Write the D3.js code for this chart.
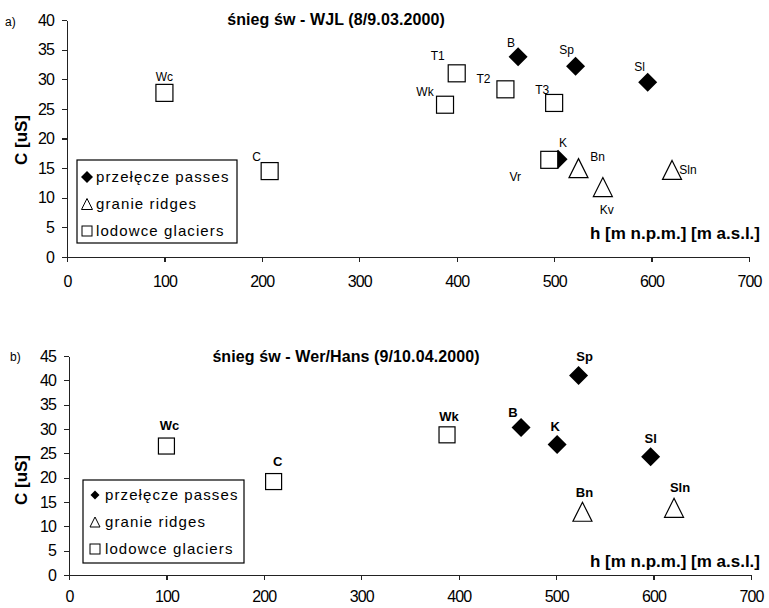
<!DOCTYPE html>
<html>
<head>
<meta charset="utf-8">
<script src="https://cdn.jsdelivr.net/npm/d3@7"></script>
<style>
  html, body { margin: 0; padding: 0; background: #fff; }
  svg { display: block; }
  text { font-family: "Liberation Sans", Arial, sans-serif; fill: #000; }
</style>
</head>
<body>
<svg id="chart" width="769" height="608"></svg>
<script>
// ---------- DATA ----------
const xTicks = [0, 100, 200, 300, 400, 500, 600, 700];
const yTicksA = [0, 5, 10, 15, 20, 25, 30, 35, 40];
const yTicksB = [0, 5, 10, 15, 20, 25, 30, 35, 40, 45];

const legendLabels = ["przełęcze passes", "granie ridges", "lodowce glaciers"];

// panel a) śnieg św - WJL (8/9.03.2000)
const passesA_names = ["B", "Sp", "Sl", "K"];
const passesA_h = [463, 522, 596, 504];
const passesA_c = [33.8, 32.2, 29.5, 16.5];
const ridgesA_names = ["Bn", "Kv", "Sln"];
const ridgesA_h = [525, 550, 621];
const ridgesA_c = [15.0, 11.8, 14.7];
const glaciersA_names = ["Wc", "C", "Wk", "T1", "T2", "T3", "Vr"];
const glaciersA_h = [100, 208, 388, 400, 450, 500, 495];
const glaciersA_c = [27.7, 14.5, 25.7, 31.0, 28.3, 26.0, 16.4];

// panel b) śnieg św - Wer/Hans (9/10.04.2000)
const passesB_names = ["Sp", "B", "K", "Sl"];
const passesB_h = [523, 464, 501, 597];
const passesB_c = [41.0, 30.3, 26.8, 24.3];
const ridgesB_names = ["Bn", "Sln"];
const ridgesB_h = [527, 621];
const ridgesB_c = [13.0, 13.8];
const glaciersB_names = ["Wc", "C", "Wk"];
const glaciersB_h = [100, 210, 388];
const glaciersB_c = [26.5, 19.2, 28.8];

// ---------- LAYOUT (label offsets, not data) ----------
const labelOffA = {
  B: [-7, -14], Sp: [-9, -16], Sl: [-8, -15], K: [5, -16],
  Bn: [19, -11], Kv: [4, 23], Sln: [16, 0],
  Wc: [0, -16], C: [-13, -14], Wk: [-20, -13], T1: [-19, -18],
  T2: [-22, -11], T3: [-12, -13], Vr: [-34, 17]
};
const labelOffB = {
  Sp: [6, -19], B: [-8, -15], K: [-2, -18], Sl: [0, -18],
  Bn: [2, -19], Sln: [6, -20],
  Wc: [3, -21], C: [4, -20], Wk: [2, -18]
};

function zip(names, hs, cs) { return names.map((n, i) => ({ name: n, h: hs[i], c: cs[i] })); }

const svg = d3.select("#chart");

function drawPanel(cfg) {
  const g = svg.append("g");
  const x = d3.scaleLinear().domain([0, 700]).range([cfg.x0, cfg.x1]);
  const y = d3.scaleLinear().domain([0, cfg.yMax]).range([cfg.y0, cfg.y1]);

  // axes
  const xAxis = d3.axisBottom(x).tickValues(xTicks).tickSize(5).tickSizeOuter(0).tickPadding(cfg.xPad);
  const yAxis = d3.axisLeft(y).tickValues(cfg.yTicks).tickSize(5).tickSizeOuter(0).tickPadding(8);
  const gx = g.append("g").attr("transform", `translate(0,${cfg.y0})`).call(xAxis);
  const gy = g.append("g").attr("transform", `translate(${cfg.x0},0)`).call(yAxis);
  [gx, gy].forEach(a => {
    a.selectAll("path, line").attr("stroke", "#222").attr("stroke-width", 1.2).attr("shape-rendering", "crispEdges");
    a.selectAll("text").style("font-size", "16px").style("letter-spacing", "-0.9px").attr("fill", "#000");
  });
  gx.selectAll("text").attr("dy", "0.71em");

  // axis titles
  g.append("text")
    .attr("transform", `translate(${cfg.yTitleX},${cfg.yTitleY}) rotate(-90)`)
    .attr("text-anchor", "middle")
    .style("font-size", "17px").style("font-weight", "bold")
    .text("C [uS]");
  g.append("text")
    .attr("x", cfg.xTitleX).attr("y", cfg.xTitleY)
    .attr("text-anchor", "end")
    .style("font-size", "17px").style("font-weight", "bold")
    .text("h [m n.p.m.] [m a.s.l.]");

  // title
  g.append("text")
    .attr("x", cfg.titleX).attr("y", cfg.titleY)
    .attr("text-anchor", "middle")
    .style("font-size", "16px").style("font-weight", "bold")
    .style("letter-spacing", "0.1px")
    .text(cfg.title);

  // panel letter
  g.append("text").attr("x", cfg.letterX).attr("y", cfg.letterY)
    .style("font-size", "12px").text(cfg.letter);

  // passes (diamonds)
  const pd = zip(...cfg.passes);
  g.append("g").selectAll("path").data(pd).join("path")
    .attr("transform", d => `translate(${x(d.h)},${y(d.c)})`)
    .attr("d", () => {
      const r = cfg.dSize / 2;
      return `M0,${-r}L${r},0L0,${r}L${-r},0Z`;
    })
    .attr("fill", "#000");

  // ridges (triangles)
  const rd = zip(...cfg.ridges);
  g.append("g").selectAll("path").data(rd).join("path")
    .attr("transform", d => `translate(${x(d.h)},${y(d.c)})`)
    .attr("d", () => {
      const w = cfg.tSize / 2, hgt = cfg.tSize;
      return `M0,${-hgt / 2}L${w},${hgt / 2}L${-w},${hgt / 2}Z`;
    })
    .attr("fill", "#fff").attr("stroke", "#000").attr("stroke-width", 1.2);

  // glaciers (squares)
  const gd = zip(...cfg.glaciers);
  g.append("g").selectAll("rect").data(gd).join("rect")
    .attr("x", d => x(d.h) - cfg.sSize / 2)
    .attr("y", d => y(d.c) - cfg.sSize / 2)
    .attr("width", cfg.sSize).attr("height", cfg.sSize)
    .attr("fill", "#fff").attr("stroke", "#000").attr("stroke-width", 1.2);

  // point labels
  const all = pd.concat(rd, gd);
  g.append("g").selectAll("text").data(all).join("text")
    .attr("x", d => x(d.h) + cfg.labelOff[d.name][0])
    .attr("y", d => y(d.c) + cfg.labelOff[d.name][1])
    .attr("dy", "0.35em")
    .attr("text-anchor", "middle")
    .style("font-size", cfg.labelSize)
    .style("font-weight", cfg.labelWeight)
    .text(d => d.name);

  // legend
  const L = cfg.legend;
  const lg = g.append("g");
  lg.append("rect").attr("x", L.x).attr("y", L.y).attr("width", L.w).attr("height", L.h)
    .attr("fill", "#fff").attr("stroke", "#000").attr("stroke-width", 1.2);
  legendLabels.forEach((lab, i) => {
    const cy = L.y + L.rowY[i];
    const cx = L.x + L.symX;
    if (i === 0) {
      const r = L.dSym / 2;
      lg.append("path").attr("d", `M${cx},${cy - r}L${cx + r},${cy}L${cx},${cy + r}L${cx - r},${cy}Z`).attr("fill", "#000");
    } else if (i === 1) {
      const w = L.tSym / 2;
      lg.append("path").attr("d", `M${cx},${cy - w}L${cx + w},${cy + w}L${cx - w},${cy + w}Z`)
        .attr("fill", "#fff").attr("stroke", "#000").attr("stroke-width", 1);
    } else {
      const s = L.sSym;
      lg.append("rect").attr("x", cx - s / 2).attr("y", cy - s / 2).attr("width", s).attr("height", s)
        .attr("fill", "#fff").attr("stroke", "#000").attr("stroke-width", 1);
    }
    lg.append("text").attr("x", L.x + L.textX).attr("y", cy).attr("dy", "0.35em")
      .style("font-size", "15px").style("letter-spacing", "1.1px")
      .text(lab);
  });
}

drawPanel({
  x0: 67, x1: 749, y0: 257, y1: 20, yMax: 40, yTicks: yTicksA, xPad: 14,
  title: "śnieg św - WJL (8/9.03.2000)", titleX: 336, titleY: 25,
  letter: "a)", letterX: 5, letterY: 26,
  yTitleX: 27, yTitleY: 140, xTitleX: 760, xTitleY: 239,
  passes: [passesA_names, passesA_h, passesA_c],
  ridges: [ridgesA_names, ridgesA_h, ridgesA_c],
  glaciers: [glaciersA_names, glaciersA_h, glaciersA_c],
  dSize: 19, tSize: 19, sSize: 17,
  labelOff: labelOffA, labelSize: "12px", labelWeight: "normal",
  legend: { x: 77, y: 160, w: 160, h: 83, rowY: [17, 44, 71], symX: 10, textX: 19, dSym: 12, tSym: 11, sSym: 10 }
});

drawPanel({
  x0: 69, x1: 751, y0: 575, y1: 356, yMax: 45, yTicks: yTicksB, xPad: 11,
  title: "śnieg św - Wer/Hans (9/10.04.2000)", titleX: 346, titleY: 362,
  letter: "b)", letterX: 10, letterY: 361,
  yTitleX: 27, yTitleY: 480, xTitleX: 760, xTitleY: 567,
  passes: [passesB_names, passesB_h, passesB_c],
  ridges: [ridgesB_names, ridgesB_h, ridgesB_c],
  glaciers: [glaciersB_names, glaciersB_h, glaciersB_c],
  dSize: 19, tSize: 19, sSize: 16,
  labelOff: labelOffB, labelSize: "13px", labelWeight: "bold",
  legend: { x: 83, y: 480, w: 161, h: 83, rowY: [15, 42, 69], symX: 12, textX: 22, dSym: 9, tSym: 10, sSym: 10 }
});
</script>
</body>
</html>
